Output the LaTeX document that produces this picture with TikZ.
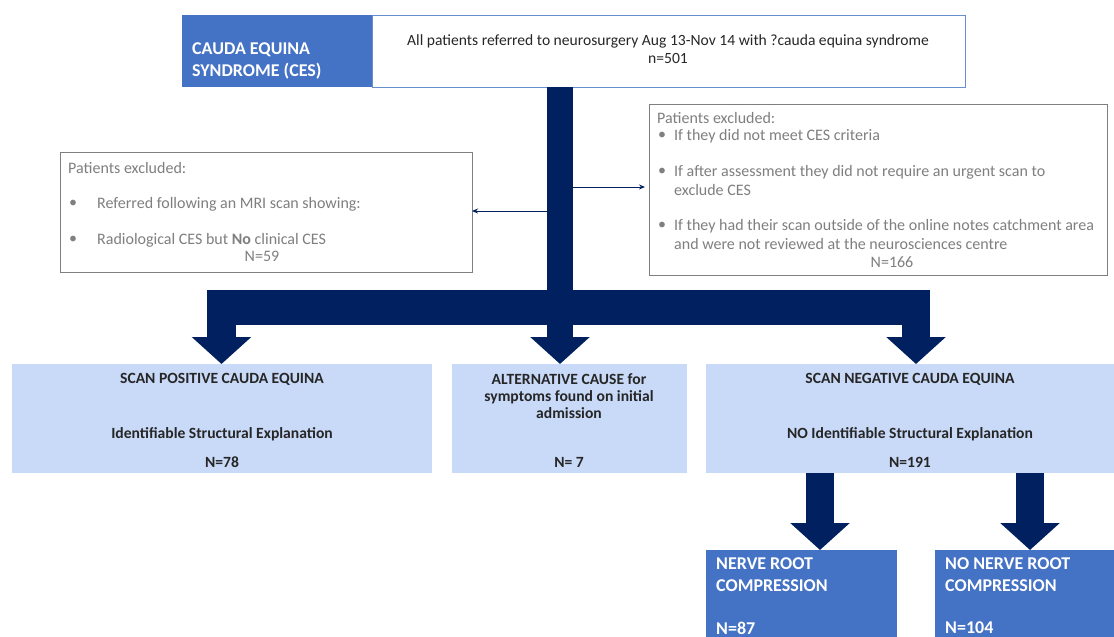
\documentclass[tikz,border=0pt]{standalone}
\usepackage{fontspec}
\setmainfont{Carlito}
\usetikzlibrary{arrows.meta}
\definecolor{navy}{HTML}{002060}
\definecolor{midblue}{HTML}{4472C4}
\definecolor{paleblue}{HTML}{C9DAF8}
\definecolor{greytext}{HTML}{7F7F7F}
\definecolor{darktext}{HTML}{262626}
\tikzset{
	panel/.style={anchor=north west,inner sep=0pt,outer sep=0pt},
	greybox/.style={panel,draw=greytext,line width=0.8pt,fill=white},
	palebox/.style={panel,fill=paleblue},
	bluebox/.style={panel,fill=midblue},
	greytxt/.style={font=\fontsize{16}{18}\selectfont,text=greytext,inner sep=0pt},
	toptxt/.style={font=\fontsize{15.6}{18}\selectfont,text=darktext,inner sep=0pt},
	boldtxt/.style={font=\bfseries\fontsize{15.6}{17}\selectfont,text=darktext,inner sep=0pt,align=center},
	whitetxt/.style={font=\bfseries\fontsize{18}{22}\selectfont,text=white,inner sep=0pt,anchor=west},
	fat/.style={draw=navy,line width=#1,-{Triangle[width=58pt,length=27pt]}},
	thinarr/.style={draw=navy,line width=1pt,-{Stealth[length=6pt,width=5pt]}}
}
\begin{document}
\begin{tikzpicture}[x=1pt,y=-1pt]
		\useasboundingbox (0,0) rectangle (1114,637);
		\node[bluebox,minimum width=190,minimum height=72] (title) at (182,15) {};
		\node[panel,draw=midblue!80,line width=0.8pt,minimum width=593,minimum height=72] (allpts) at (372,15) {};
		\node[greybox,minimum width=412,minimum height=120] (exclL) at (60,152) {};
		\node[greybox,minimum width=458,minimum height=171] (exclR) at (649,104) {};
		\node[palebox,minimum width=420,minimum height=109] (scanpos) at (12,364) {};
		\node[palebox,minimum width=235,minimum height=109] (altcause) at (452,364) {};
		\node[palebox,minimum width=408,minimum height=109] (scanneg) at (706,364) {};
		\node[bluebox,minimum width=191,minimum height=87] (nrc) at (706,550) {};
		\node[bluebox,minimum width=179,minimum height=87] (nonrc) at (935,550) {};

		\coordinate (split) at (560,307.5);
		\coordinate (lft) at (221.5,307.5);
		\coordinate (rgt) at (916,307.5);
		\coordinate (na) at (820,500);
		\coordinate (nb) at (1030,500);
		\coordinate (tl) at (547,211);
		\coordinate (tr) at (573,187);
		\draw[fat=26pt] (allpts.south -| split) -- (altcause.north -| split);
		\draw[navy,line width=35pt] ([xshift=-14.5pt]lft) -- ([xshift=14pt]rgt);
		\draw[fat=29pt] (lft) -- (scanpos.north -| lft);
		\draw[fat=28pt] (rgt) -- (scanneg.north -| rgt);
		\draw[fat=28pt] (scanneg.south -| na) -- (nrc.north -| na);
		\draw[fat=28pt] (scanneg.south -| nb) -- (nonrc.north -| nb);
		\draw[thinarr] (tl) -- (exclL.east |- tl);
		\draw[thinarr] (tr) -- ([xshift=-4pt]exclR.west |- tr);

		\node[whitetxt,align=left] (titletxt) at (192,61) {CAUDA EQUINA\\SYNDROME (CES)};
		\node[toptxt] (allptstxt) at (668,41) {All patients referred to neurosurgery Aug 13-Nov 14 with ?cauda equina syndrome};
		\node[toptxt] (allptsn) at (668,58) {n=501};

		\node[greytxt,anchor=west] (lhead) at (68,168) {Patients excluded:};
		\node[greytxt] (lb1) at (73,204) {•};
		\node[greytxt,anchor=west] (l1) at (97,204) {Referred following an MRI scan showing:};
		\node[greytxt] (lb2) at (73,240) {•};
		\node[greytxt,anchor=west] (l2) at (97,240) {Radiological CES but \textbf{No} clinical CES};
		\node[greytxt] (ln) at (262,256) {N=59};

		\node[greytxt,anchor=west] (rhead) at (657,118) {Patients excluded:};
		\node[greytxt] (rb1) at (662,136) {•};
		\node[greytxt,anchor=west] (r1) at (674,136) {If they did not meet CES criteria};
		\node[greytxt] (rb2) at (662,172) {•};
		\node[greytxt,anchor=west] (r2) at (674,172) {If after assessment they did not require an urgent scan to};
		\node[greytxt,anchor=west] (r2b) at (674,190) {exclude CES};
		\node[greytxt] (rb3) at (662,226) {•};
		\node[greytxt,anchor=west] (r3) at (674,226) {If they had their scan outside of the online notes catchment area};
		\node[greytxt,anchor=west] (r3b) at (674,244) {and were not reviewed at the neurosciences centre};
		\node[greytxt] (rn) at (892,262) {N=166};

		\node[boldtxt] (sp1) at (222,379) {SCAN POSITIVE CAUDA EQUINA};
		\node[boldtxt] (sp2) at (222,434) {Identifiable Structural Explanation};
		\node[boldtxt] (sp3) at (222,462) {N=78};
		\node[boldtxt,anchor=north] (ac1) at (569,373) {ALTERNATIVE CAUSE for\\symptoms found on initial\\admission};
		\node[boldtxt] (ac2) at (569,462) {N= 7};
		\node[boldtxt] (sn1) at (910,379) {SCAN NEGATIVE CAUDA EQUINA};
		\node[boldtxt] (sn2) at (910,434) {NO Identifiable Structural Explanation};
		\node[boldtxt] (sn3) at (910,462) {N=191};

		\node[whitetxt,align=left] (nrctxt) at (716,575) {NERVE ROOT\\COMPRESSION};
		\node[whitetxt] (nrcn) at (716,628) {N=87};
		\node[whitetxt,align=left] (nonrctxt) at (945,575) {NO NERVE ROOT\\COMPRESSION};
		\node[whitetxt] (nonrcn) at (945,628) {N=104};
	\end{tikzpicture}
\end{document}
